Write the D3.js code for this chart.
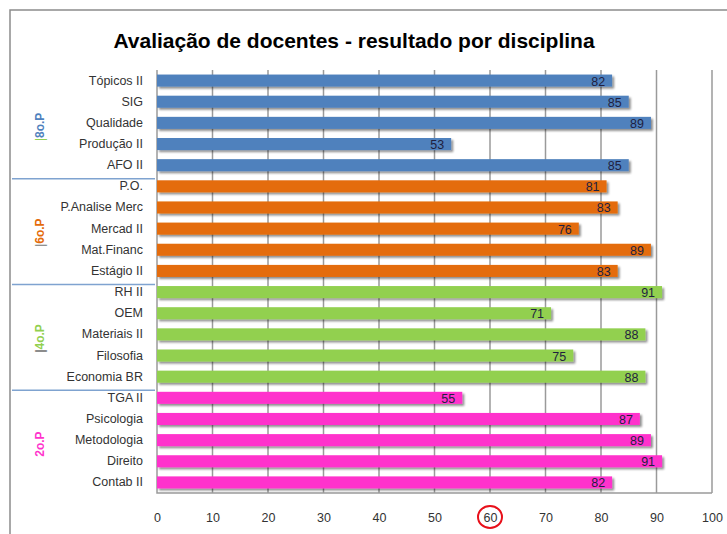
<!DOCTYPE html>
<html>
<head>
<meta charset="utf-8">
<script src="https://cdn.jsdelivr.net/npm/d3@7"></script>
<style>
  body { margin: 0; background: #fff; }
  text { font-family: "Liberation Sans", Arial, sans-serif; }
</style>
</head>
<body>
<div id="chart-area"></div>
<script>
// data, top to bottom as in the picture
const disciplinas = ["Tópicos II", "SIG", "Qualidade", "Produção II", "AFO II",
  "P.O.", "P.Analise Merc", "Mercad II", "Mat.Financ", "Estágio  II",
  "RH II", "OEM", "Materiais II", "Filosofia", "Economia BR",
  "TGA II", "Psicologia", "Metodologia", "Direito", "Contab II"]
const notas = [82, 85, 89, 53, 85,
  81, 83, 76, 89, 83,
  91, 71, 88, 75, 88,
  55, 87, 89, 91, 82]
const periodos = ["8o.P", "6o.P", "4o.P", "2o.P"]
const periodoTamanho = [5, 5, 5, 5]
const xTicks = [0, 10, 20, 30, 40, 50, 60, 70, 80, 90, 100]

const cores = ["#4f81bd", "#e46c0a", "#92d050", "#ff33cc"]
const pipeCores = ["#92d050", "#777777", "#333333", null]

const W = 727, H = 534
const MARGIN = { LEFT: 157, RIGHT: 15, TOP: 70, BOTTOM: 41 }
const WIDTH = W - MARGIN.LEFT - MARGIN.RIGHT
const HEIGHT = H - MARGIN.TOP - MARGIN.BOTTOM

// which period each bar belongs to
const grupoDe = []
periodoTamanho.forEach((n, i) => { for (let k = 0; k < n; k++) grupoDe.push(i) })

const svg = d3.select("#chart-area").append("svg")
  .attr("width", W)
  .attr("height", H)

const defs = svg.append("defs")
const f = defs.append("filter").attr("id", "sombra")
  .attr("x", "-5%").attr("y", "-30%").attr("width", "115%").attr("height", "180%")
f.append("feGaussianBlur").attr("in", "SourceAlpha").attr("stdDeviation", 1.2)
f.append("feOffset").attr("dx", 2).attr("dy", 2).attr("result", "b")
f.append("feComponentTransfer").append("feFuncA").attr("type", "linear").attr("slope", 0.45)
const m = f.append("feMerge")
m.append("feMergeNode")
m.append("feMergeNode").attr("in", "SourceGraphic")

// outer frame (top + left edge of the chart object)
svg.append("path")
  .attr("d", `M10,${H} L10,10 L${W},10`)
  .attr("fill", "none")
  .attr("stroke", "#8c8c8c")
  .attr("stroke-width", 1.5)

// title
svg.append("text")
  .attr("x", 354)
  .attr("y", 48)
  .attr("text-anchor", "middle")
  .attr("font-size", "21px")
  .attr("font-weight", "bold")
  .attr("fill", "#000")
  .text("Avaliação de docentes - resultado por disciplina")

const g = svg.append("g")
  .attr("transform", `translate(${MARGIN.LEFT}, ${MARGIN.TOP})`)

const x = d3.scaleLinear()
  .domain([0, 100])
  .range([0, WIDTH])

const y = d3.scaleBand()
  .domain(disciplinas)
  .range([0, HEIGHT])
  .paddingInner(0.43)
  .paddingOuter(0.215)

// gridlines
g.selectAll(".grid")
  .data(xTicks.slice(1))
  .enter().append("line")
  .attr("class", "grid")
  .attr("x1", d => x(d)).attr("x2", d => x(d))
  .attr("y1", 0).attr("y2", HEIGHT)
  .attr("stroke", "#9a9a9a")
  .attr("stroke-width", 1.5)

// plot border: left, bottom
g.append("path")
  .attr("d", `M0,0 L0,${HEIGHT} L${WIDTH},${HEIGHT}`)
  .attr("fill", "none")
  .attr("stroke", "#9a9a9a")
  .attr("stroke-width", 1.5)

// bars
g.selectAll(".bar")
  .data(notas)
  .enter().append("rect")
  .attr("class", "bar")
  .attr("x", 0)
  .attr("y", (d, i) => y(disciplinas[i]))
  .attr("width", d => x(d))
  .attr("height", y.bandwidth())
  .attr("fill", (d, i) => cores[grupoDe[i]])
  .attr("filter", "url(#sombra)")

// value labels
g.selectAll(".valor")
  .data(notas)
  .enter().append("text")
  .attr("class", "valor")
  .attr("x", d => x(d) - 7)
  .attr("y", (d, i) => y(disciplinas[i]) + y.bandwidth() / 2)
  .attr("dy", "0.4em")
  .attr("text-anchor", "end")
  .attr("font-size", "12.5px")
  .attr("fill", "#1f1f3f")
  .text(d => d)

// category labels
const yAxisCall = d3.axisLeft(y).tickSize(0).tickPadding(14)
const yAxisGroup = g.append("g").call(yAxisCall)
yAxisGroup.select(".domain").remove()
yAxisGroup.selectAll("text")
  .attr("font-size", "12.5px")
  .attr("font-family", "Liberation Sans, Arial, sans-serif")
  .attr("fill", "#333")

// x tick labels
const xAxisCall = d3.axisBottom(x).tickValues(xTicks).tickSize(0).tickPadding(20)
const xAxisGroup = g.append("g")
  .attr("transform", `translate(0, ${HEIGHT})`)
  .call(xAxisCall)
xAxisGroup.select(".domain").remove()
xAxisGroup.selectAll("text")
  .attr("font-size", "12.5px")
  .attr("font-family", "Liberation Sans, Arial, sans-serif")
  .attr("fill", "#333")

// red circle around 60
g.append("ellipse")
  .attr("cx", x(60))
  .attr("cy", HEIGHT + 24)
  .attr("rx", 12)
  .attr("ry", 11)
  .attr("fill", "none")
  .attr("stroke", "#e8101a")
  .attr("stroke-width", 2)

// separators between periods and period labels
let inicio = 0
periodos.forEach((p, i) => {
  const fim = inicio + periodoTamanho[i]
  const y0 = y.step() * (inicio + y.paddingOuter() - y.paddingInner() / 2)
  const y1 = y.step() * (fim + y.paddingOuter() - y.paddingInner() / 2)
  if (i < periodos.length - 1) {
    g.append("line")
      .attr("x1", 12 - MARGIN.LEFT).attr("x2", -2)
      .attr("y1", y1 + 3).attr("y2", y1 + 3)
      .attr("stroke", "#7fa3d0")
      .attr("stroke-width", 1.5)
  }
  const lbl = g.append("text")
    .attr("transform", `translate(${44 - MARGIN.LEFT}, ${(y0 + y1) / 2 + 4}) rotate(-90)`)
    .attr("text-anchor", "middle")
    .attr("font-size", "12px")
    .attr("font-weight", "bold")
  if (pipeCores[i]) {
    lbl.append("tspan").attr("fill", pipeCores[i]).attr("font-weight", "normal").text("|")
  }
  lbl.append("tspan").attr("fill", cores[i]).text(p)
  inicio = fim
})
</script>
</body>
</html>
